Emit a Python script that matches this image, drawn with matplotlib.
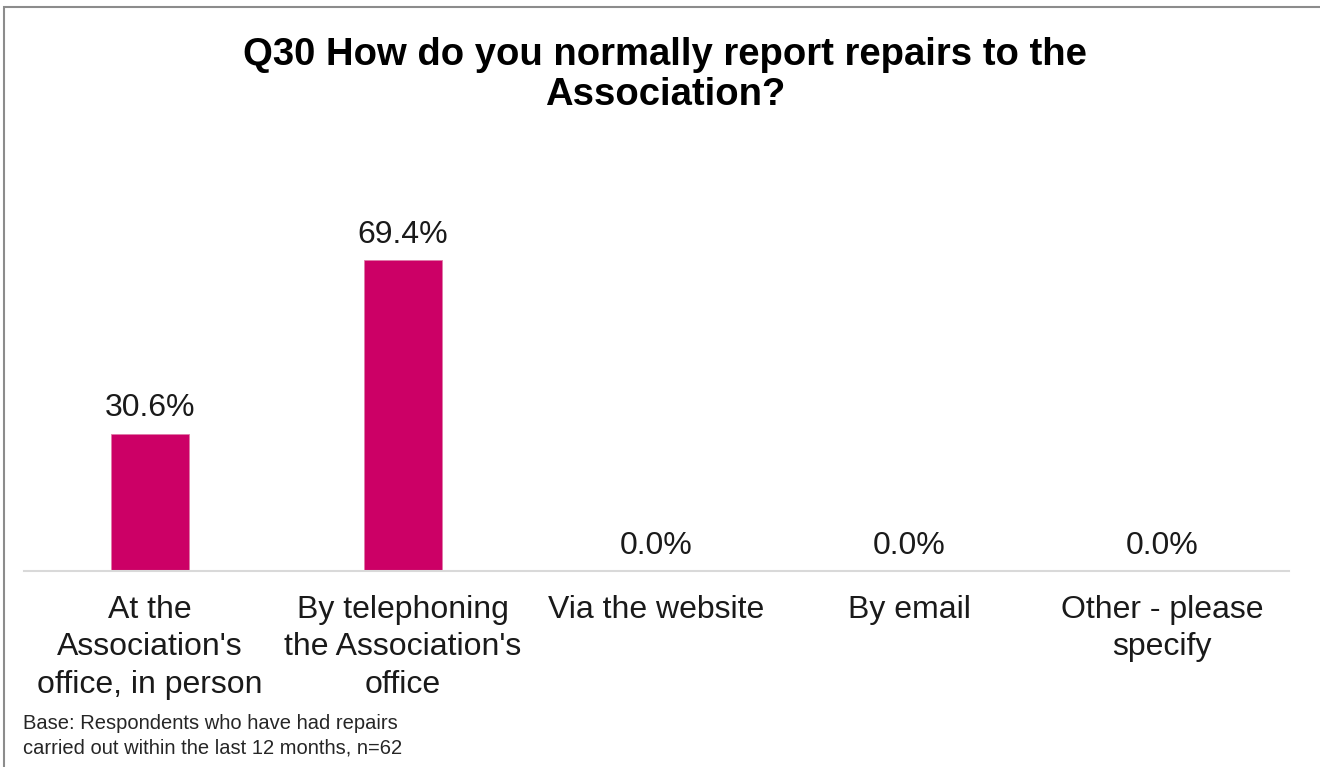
import matplotlib.pyplot as plt
from matplotlib.patches import Rectangle

plt.rcParams['font.family'] = ['Liberation Sans', 'DejaVu Sans']

# Survey results
categories = ["At the\nAssociation's\noffice, in person",
              "By telephoning\nthe Association's\noffice",
              "Via the website",
              "By email",
              "Other - please\nspecify"]
percent = [30.6, 69.4, 0.0, 0.0, 0.0]

title = "Q30 How do you normally report repairs to the\nAssociation?"
base_note = "Base: Respondents who have had repairs\ncarried out within the last 12 months, n=62"

W, H = 1320, 767
fig = plt.figure(figsize=(W / 100, H / 100), dpi=100)

# gray frame round the chart area
fig.patches.append(Rectangle((4 / W, -0.05), 1.1, 1 - 7 / H + 0.05, transform=fig.transFigure,
                             fill=False, edgecolor='#8c8c8c', linewidth=1.5))

ax = fig.add_axes([23.5 / W, 1 - 571 / H, 1265 / W, 358.4 / H])
x = range(len(categories))
bars = ax.bar(x, percent, width=0.31, color='#CC0066', edgecolor='#e07aa8', linewidth=0.6)

for xi, v in zip(x, percent):
    ax.annotate(f'{v:.1f}%', (xi, v), xytext=(0, 7.5), textcoords='offset points',
                ha='center', va='bottom', fontsize=23, color='#1a1a1a')

ax.set_xlim(-0.5, len(categories) - 0.5)
ax.set_ylim(0, 80)
ax.set_xticks(list(x))
ax.set_xticklabels(categories, fontsize=23, linespacing=1.31, color='#1a1a1a')
ax.tick_params(axis='x', length=0, pad=17.5)
ax.set_yticks([])
for side in ['top', 'left', 'right']:
    ax.spines[side].set_visible(False)
ax.spines['bottom'].set_color('#d9d9d9')
ax.spines['bottom'].set_linewidth(1.5)

fig.text(665 / W, 1 - 75 / H, title, ha='center', va='center', fontsize=27.5,
         fontweight='bold', linespacing=1.12)
fig.text(23 / W, 1 - 758 / H, base_note, ha='left', va='bottom', fontsize=14.5,
         color='#262626', linespacing=1.4)

fig.savefig('out.png', dpi=100, facecolor='white')
